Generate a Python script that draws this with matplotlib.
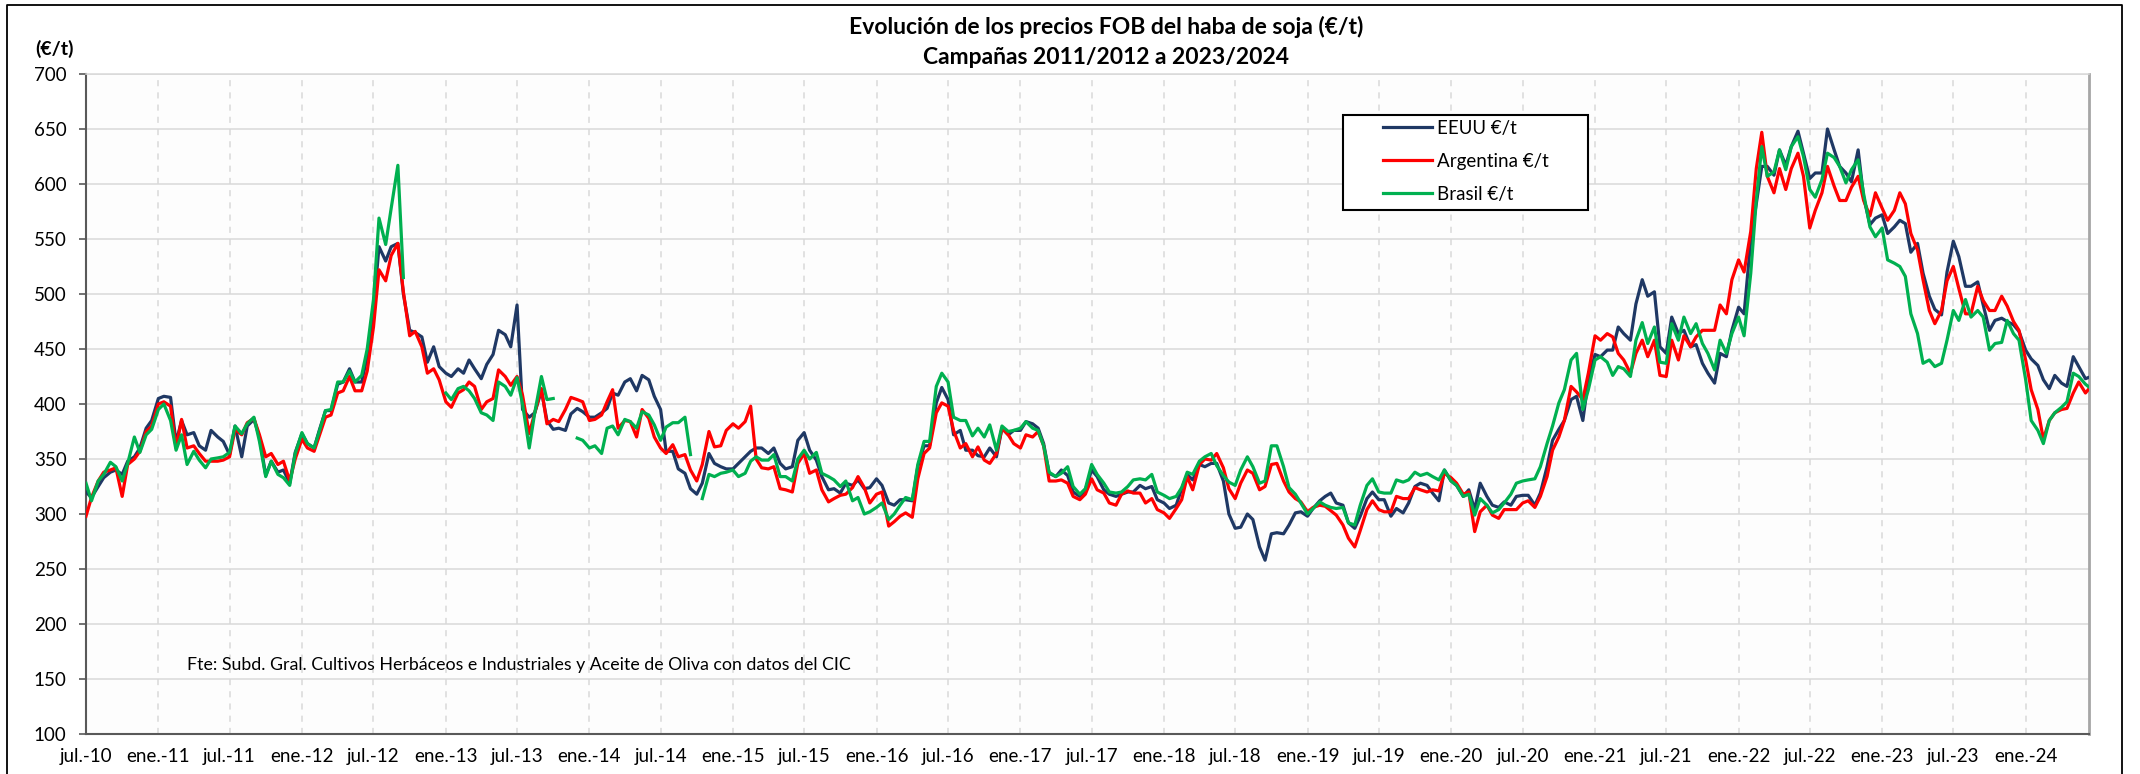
import numpy as np
import pandas as pd
import matplotlib
matplotlib.use('Agg')
import matplotlib.pyplot as plt
from matplotlib.patches import Rectangle
from matplotlib.lines import Line2D

plt.rcParams['font.family'] = ['Lato', 'DejaVu Sans']

nan = np.nan

# semi-monthly sampling from 1 Jul 2010 (1st and 15th of each month)
start_date = '2010-07-01'
n_points = 336

# one row = six months (12 half-month values)
eeuu = [
    320, 315, 325, 333, 338, 340, 336, 348, 352, 360, 378, 385,
    405, 407, 406, 365, 385, 372, 374, 362, 358, 376, 370, 366,
    354, 380, 352, 380, 386, 370, 335, 348, 338, 340, 328, 356,
    373, 364, 360, 377, 394, 394, 418, 420, 432, 420, 420, 443,
    485, 543, 530, 543, 546, 500, 467, 465, 461, 438, 452, 434,
    428, 425, 432, 428, 440, 432, 423, 436, 445, 467, 463, 452,
    490, 395, 388, 392, 412, 385, 377, 378, 376, 391, 396, 393,
    388, 388, 392, 396, 410, 408, 420, 423, 412, 426, 422, 407,
    395, 357, 357, 341, 337, 323, 318, 328, 355, 346, 343, 341,
    341, 346, 352, 357, 360, 360, 355, 360, 346, 341, 343, 367,
    374, 358, 349, 334, 322, 323, 319, 328, 326, 331, 323, 324,
    332, 326, 310, 308, 313, 313, 312, 343, 362, 362, 401, 415,
    404, 372, 376, 358, 358, 353, 352, 360, 352, 378, 372, 376,
    376, 384, 382, 378, 364, 337, 334, 340, 335, 320, 316, 322,
    340, 334, 322, 318, 316, 318, 320, 320, 326, 323, 325, 313,
    310, 305, 308, 323, 336, 331, 345, 343, 346, 346, 330, 300,
    287, 288, 300, 295, 270, 258, 282, 283, 282, 290, 301, 302,
    298, 305, 312, 316, 319, 310, 308, 292, 287, 298, 314, 320,
    313, 313, 298, 305, 301, 310, 325, 328, 326, 319, 312, 340,
    330, 326, 316, 322, 304, 328, 316, 308, 306, 311, 308, 316,
    317, 317, 308, 319, 343, 367, 377, 385, 404, 407, 385, 422,
    445, 443, 449, 449, 470, 464, 458, 491, 513, 498, 502, 452,
    446, 479, 464, 467, 452, 454, 437, 428, 419, 446, 443, 467,
    488, 482, 549, 582, 616, 616, 608, 631, 617, 634, 648, 628,
    605, 610, 610, 650, 631, 616, 610, 602, 631, 588, 563, 569,
    572, 555, 561, 567, 564, 538, 546, 519, 498, 486, 481, 520,
    548, 534, 507, 507, 511, 490, 467, 476, 478, 475, 472, 466,
    449, 441, 435, 422, 414, 426, 419, 416, 443, 434, 423, 425,
]

argentina = [
    298, 315, 330, 338, 340, 342, 316, 345, 350, 357, 375, 380,
    400, 402, 398, 360, 386, 360, 362, 355, 348, 348, 348, 349,
    352, 377, 372, 383, 387, 372, 352, 355, 345, 348, 330, 350,
    368, 360, 357, 372, 388, 390, 410, 412, 425, 412, 412, 430,
    470, 522, 512, 535, 546, 502, 462, 466, 452, 428, 432, 422,
    402, 397, 410, 413, 420, 416, 395, 402, 405, 431, 425, 417,
    425, 408, 373, 392, 414, 382, 386, 384, 395, 406, 404, 402,
    385, 386, 390, 402, 413, 378, 385, 384, 370, 395, 387, 370,
    360, 355, 363, 352, 354, 340, 330, 345, 375, 361, 362, 376,
    382, 378, 384, 398, 350, 342, 341, 343, 323, 322, 320, 346,
    355, 337, 340, 322, 311, 314, 317, 318, 324, 334, 324, 310,
    318, 320, 289, 293, 298, 301, 297, 332, 355, 360, 392, 401,
    398, 376, 360, 364, 352, 361, 349, 346, 355, 378, 372, 364,
    360, 372, 370, 375, 362, 330, 330, 331, 328, 316, 313, 318,
    332, 322, 319, 310, 308, 318, 321, 319, 319, 310, 314, 304,
    301, 296, 305, 313, 334, 322, 345, 350, 349, 355, 342, 323,
    314, 328, 340, 337, 322, 325, 345, 346, 330, 320, 314, 311,
    302, 306, 308, 307, 303, 299, 290, 278, 270, 285, 304, 312,
    304, 302, 302, 316, 314, 314, 324, 322, 320, 322, 321, 337,
    333, 328, 318, 320, 284, 302, 308, 299, 296, 304, 304, 304,
    310, 312, 306, 316, 334, 358, 370, 385, 416, 411, 404, 428,
    462, 458, 464, 461, 446, 440, 428, 446, 458, 443, 458, 426,
    425, 458, 440, 462, 452, 461, 467, 467, 467, 490, 482, 513,
    531, 520, 557, 614, 647, 607, 592, 614, 595, 614, 628, 607,
    560, 576, 592, 616, 598, 585, 585, 597, 607, 585, 571, 592,
    578, 567, 576, 592, 582, 555, 540, 513, 485, 473, 485, 512,
    525, 505, 482, 482, 507, 494, 485, 485, 498, 489, 475, 467,
    440, 413, 395, 368, 385, 392, 395, 396, 410, 420, 410, 416,
]

brasil = [
    328, 312, 330, 336, 347, 343, 330, 346, 370, 356, 372, 377,
    395, 400, 385, 358, 372, 345, 357, 349, 342, 350, 351, 352,
    356, 380, 373, 382, 388, 366, 334, 348, 336, 333, 326, 355,
    374, 364, 360, 376, 394, 395, 420, 420, 430, 420, 426, 450,
    495, 569, 545, 578, 617, 515, nan, nan, nan, nan, nan, nan,
    410, 404, 414, 416, 412, 405, 392, 390, 385, 420, 416, 408,
    424, 400, 360, 392, 425, 404, 405, nan, nan, nan, 369, 367,
    360, 362, 355, 378, 380, 372, 386, 384, 378, 393, 390, 381,
    367, 379, 383, 383, 388, 354, nan, 314, 336, 334, 337, 338,
    340, 334, 337, 348, 352, 349, 349, 354, 334, 334, 330, 350,
    358, 350, 356, 337, 334, 331, 325, 330, 312, 315, 300, 302,
    306, 310, 295, 300, 308, 315, 313, 345, 366, 366, 416, 428,
    420, 388, 385, 385, 371, 378, 370, 381, 358, 380, 375, 376,
    378, 384, 378, 376, 362, 338, 334, 337, 343, 325, 318, 323,
    345, 336, 328, 320, 319, 320, 325, 331, 332, 331, 336, 320,
    317, 314, 316, 324, 338, 336, 348, 352, 355, 344, 335, 329,
    326, 340, 352, 343, 328, 330, 362, 362, 343, 324, 318, 310,
    300, 305, 311, 308, 306, 305, 306, 292, 290, 308, 326, 332,
    320, 319, 319, 331, 329, 331, 338, 335, 337, 334, 331, 340,
    330, 326, 316, 318, 299, 314, 308, 301, 304, 310, 318, 328,
    330, 331, 332, 343, 364, 380, 401, 413, 440, 446, 395, 413,
    440, 443, 438, 426, 434, 432, 425, 458, 474, 455, 470, 438,
    437, 473, 458, 479, 464, 473, 455, 446, 431, 458, 446, 464,
    479, 462, 519, 585, 634, 607, 611, 631, 613, 634, 643, 625,
    595, 588, 604, 628, 624, 616, 601, 613, 622, 591, 561, 552,
    560, 531, 528, 525, 516, 482, 464, 437, 440, 434, 437, 458,
    485, 476, 495, 479, 485, 479, 449, 455, 456, 476, 464, 458,
    422, 385, 376, 364, 385, 392, 397, 402, 428, 425, 418, 414,
]

series_names = ['EEUU €/t', 'Argentina €/t', 'Brasil €/t']
tick_labels = ['jul.-10', 'ene.-11', 'jul.-11', 'ene.-12', 'jul.-12', 'ene.-13',
               'jul.-13', 'ene.-14', 'jul.-14', 'ene.-15', 'jul.-15', 'ene.-16',
               'jul.-16', 'ene.-17', 'jul.-17', 'ene.-18', 'jul.-18', 'ene.-19',
               'jul.-19', 'ene.-20', 'jul.-20', 'ene.-21', 'jul.-21', 'ene.-22',
               'jul.-22', 'ene.-23', 'jul.-23', 'ene.-24']

dates = pd.date_range(start=start_date, periods=n_points, freq='SMS')
tick_dates = pd.date_range('2010-07-01', '2024-01-01', freq='6MS')

W, H = 2140, 774
fig = plt.figure(figsize=(W / 100, H / 100), dpi=100)
fig.patch.set_facecolor('white')

L, R, T, B = 86, 2089, 74, 734
ax = fig.add_axes([L / W, 1 - B / H, (R - L) / W, (B - T) / H])
ax.set_facecolor('#FDFDFD')

l_us, = ax.plot(dates, eeuu, color='#1F3864', lw=2.3, zorder=3)
l_ar, = ax.plot(dates, argentina, color='#FF0000', lw=2.3, zorder=4)
l_br, = ax.plot(dates, brasil, color='#00B050', lw=2.3, zorder=5)

ax.set_ylim(100, 700)
ax.set_yticks(range(100, 701, 50))
ax.set_xlim(pd.Timestamp('2010-07-01'), pd.Timestamp('2024-06-10'))
ax.set_xticks(tick_dates)
ax.set_xticklabels(tick_labels)

ax.tick_params(axis='x', length=0, pad=10, labelsize=13.5)
ax.tick_params(axis='y', length=5, width=1.2, direction='out', pad=9,
               labelsize=13.5, color='#595959')
ax.grid(axis='y', color='#D9D9D9', lw=1.1)
ax.grid(axis='x', color='#D9D9D9', lw=1.1, linestyle=(0, (4, 4)))
ax.set_axisbelow(True)

for side in ['left', 'bottom']:
    ax.spines[side].set_color('#595959')
    ax.spines[side].set_linewidth(1.5)
ax.spines['right'].set_color('#A6A6A6')
ax.spines['right'].set_linewidth(2)
ax.spines['top'].set_color('#D9D9D9')
ax.spines['top'].set_linewidth(1.1)

# legend box
fig.add_artist(Rectangle((1343 / W, 1 - 210 / H), 245 / W, 95 / H,
                         transform=fig.transFigure, facecolor='white',
                         edgecolor='black', lw=1.5, zorder=3))
fig.legend([l_us, l_ar, l_br], series_names, loc='upper left',
           bbox_to_anchor=(1383 / W, 1 - 120 / H), frameon=False, borderpad=0,
           borderaxespad=0, handlelength=2.6, handletextpad=0.3,
           labelspacing=0.85, fontsize=13.5).set_zorder(6)

# outer frame
fig.add_artist(Line2D([7 / W, 7 / W, 2122 / W, 2122 / W],
                      [0, 1 - 5 / H, 1 - 5 / H, 0], color='black', lw=1.3,
                      transform=fig.transFigure))

fig.text(1106 / W, 1 - 27 / H, 'Evolución de los precios FOB del haba de soja (€/t)',
         ha='center', va='center', fontsize=16.5, fontweight='bold')
fig.text(1106 / W, 1 - 57 / H, 'Campañas 2011/2012 a 2023/2024',
         ha='center', va='center', fontsize=16.5, fontweight='bold')
fig.text(54 / W, 1 - 49 / H, '(€/t)', ha='center', va='center',
         fontsize=14, fontweight='bold')
fig.text(187 / W, 1 - 665 / H,
         'Fte: Subd. Gral. Cultivos Herbáceos e Industriales y Aceite de Oliva con datos del CIC',
         ha='left', va='center', fontsize=12.8)

fig.savefig('out.png', dpi=100)
